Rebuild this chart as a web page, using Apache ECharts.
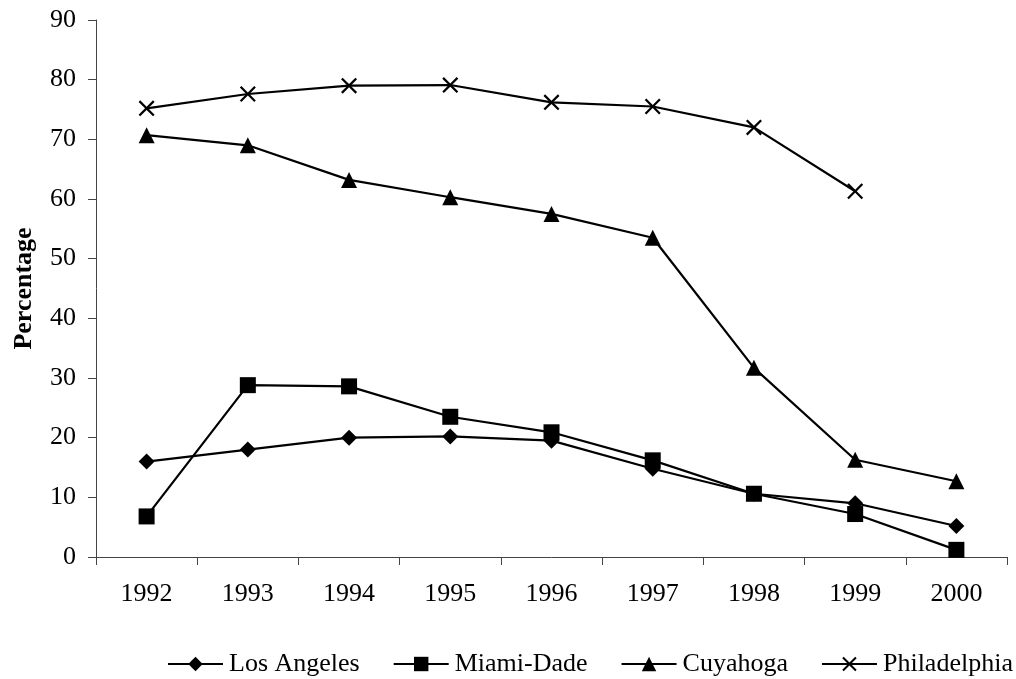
<!DOCTYPE html>
<html>
<head>
<meta charset="utf-8">
<script src="https://cdn.jsdelivr.net/npm/echarts@6/dist/echarts.min.js"></script>
<style>
  html, body { margin: 0; padding: 0; background: #fff; }
  #chart { width: 1016px; height: 679px; }
</style>
</head>
<body>
<div id="chart"></div>
<script>
// Years on the category axis
const years = ['1992', '1993', '1994', '1995', '1996', '1997', '1998', '1999', '2000'];

// Percentage by county, per year
const losAngeles   = [16.0, 18.0, 20.0, 20.2, 19.5, 14.8, 10.6, 9.0, 5.2];
const miamiDade    = [6.8, 28.8, 28.6, 23.5, 20.9, 16.2, 10.6, 7.2, 1.2];
const cuyahoga     = [70.7, 69.0, 63.2, 60.3, 57.5, 53.5, 31.7, 16.3, 12.7];
const philadelphia = [75.2, 77.6, 79.0, 79.1, 76.2, 75.5, 72.0, 61.3, null];

const yTicks = { min: 0, max: 90, interval: 10 };

const FONT = '"Liberation Serif", "DejaVu Serif", serif';
const crossSymbol = 'path://M0,1 L1,0 L5,4 L9,0 L10,1 L6,5 L10,9 L9,10 L5,6 L1,10 L0,9 L4,5 Z';

function lineSeries(name, data, symbol, size) {
  return {
    name: name,
    type: 'line',
    data: data,
    symbol: symbol,
    symbolSize: size,
    showAllSymbol: true,
    connectNulls: false,
    lineStyle: { color: '#000', width: 2.2 },
    itemStyle: { color: '#000', borderWidth: 0 },
    emphasis: { disabled: true },
    animation: false
  };
}

const chart = echarts.init(document.getElementById('chart'), null, { renderer: 'canvas' });
chart.setOption({
  backgroundColor: '#fff',
  textStyle: { fontFamily: FONT, color: '#000' },
  grid: { left: 96, right: 9, top: 20, bottom: 122, containLabel: false },
  legend: {
    left: 167,
    top: 651,
    padding: 0,
    itemWidth: 55,
    itemHeight: 18,
    itemGap: 33,
    textStyle: { fontFamily: FONT, fontSize: 26, color: '#000', padding: [0, 0, 0, 1] },
    data: ['Los Angeles', 'Miami-Dade', 'Cuyahoga', 'Philadelphia']
  },
  xAxis: {
    type: 'category',
    data: years,
    boundaryGap: true,
    axisLine: { lineStyle: { color: '#444', width: 1 } },
    axisTick: { show: true, length: 8, inside: false, alignWithLabel: false, lineStyle: { color: '#444' } },
    axisLabel: { fontFamily: FONT, fontSize: 26, color: '#000', margin: 24 },
    splitLine: { show: false }
  },
  yAxis: {
    type: 'value',
    min: yTicks.min,
    max: yTicks.max,
    interval: yTicks.interval,
    name: 'Percentage',
    nameLocation: 'middle',
    nameGap: 59,
    nameTextStyle: { fontFamily: FONT, fontSize: 26, fontWeight: 'bold', color: '#000' },
    axisLine: { show: true, lineStyle: { color: '#444', width: 1 } },
    axisTick: { show: true, length: 8, inside: false, lineStyle: { color: '#444' } },
    axisLabel: { fontFamily: FONT, fontSize: 26, color: '#000', margin: 20 },
    splitLine: { show: false }
  },
  series: [
    lineSeries('Los Angeles', losAngeles, 'diamond', 16),
    lineSeries('Miami-Dade', miamiDade, 'rect', 16),
    lineSeries('Cuyahoga', cuyahoga, 'triangle', 16),
    lineSeries('Philadelphia', philadelphia, crossSymbol, 16)
  ]
});
</script>
</body>
</html>
